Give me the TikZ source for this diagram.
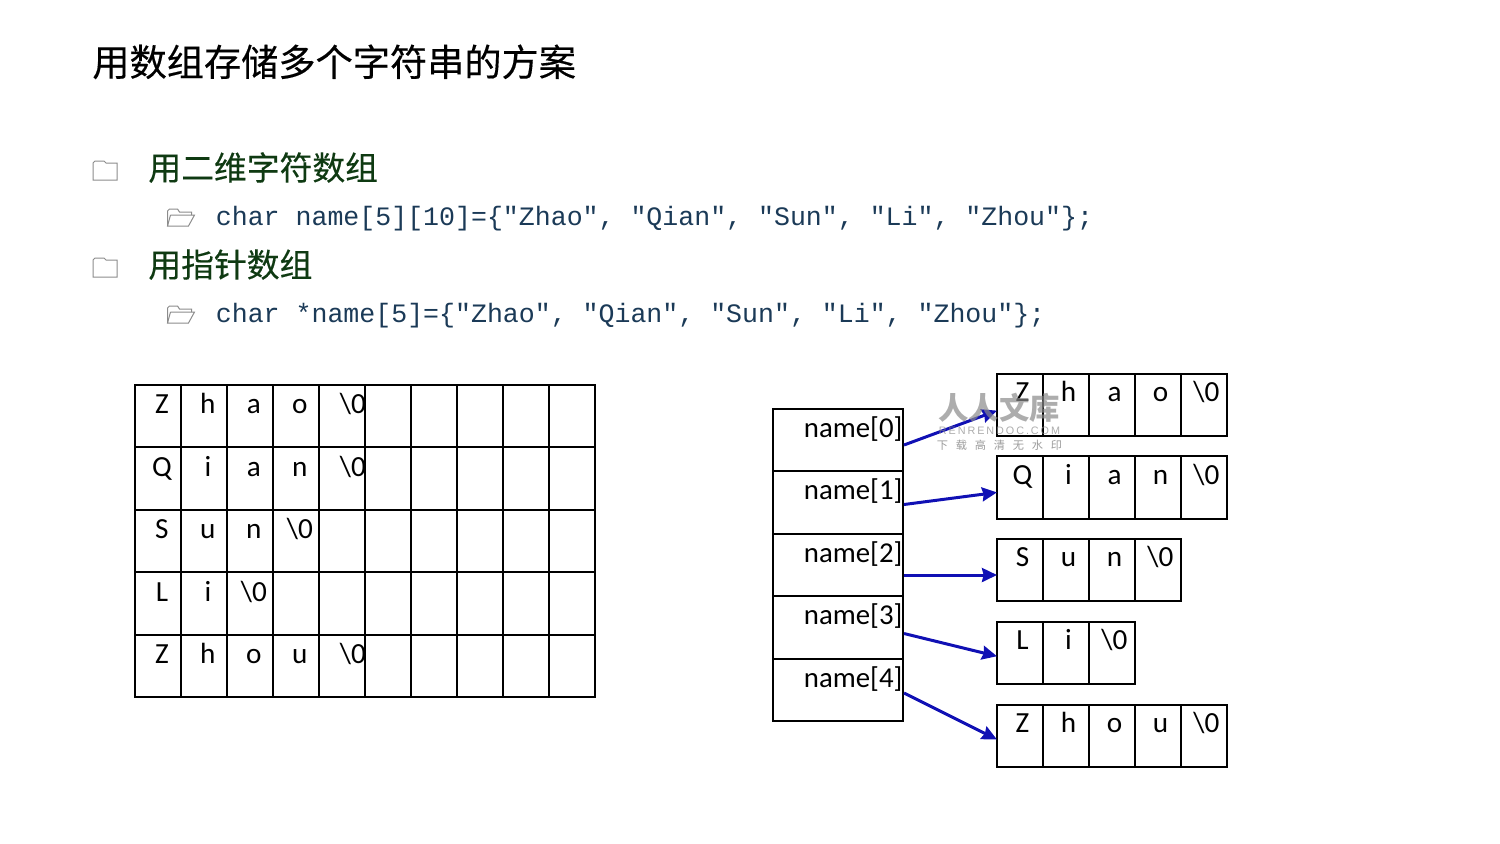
\documentclass[tikz,border=0pt]{standalone}
\usepackage{fontspec}
\setmainfont{Carlito}
\newfontfamily\cjkfont{Noto Sans CJK SC}
\newfontfamily\cjkheavy[FakeBold=0.35]{Noto Sans CJK SC}
\newfontfamily\codefont{Liberation Mono}
\newfontfamily\markfont[LetterSpace=18]{Liberation Sans}
\usetikzlibrary{arrows.meta}
\definecolor{head-green}{HTML}{0F3A12}
\definecolor{code-blue}{HTML}{1B3A57}
\definecolor{arrow-blue}{HTML}{1010B4}
\definecolor{icon-gray}{HTML}{8C8C8C}
\definecolor{mark-gray}{HTML}{8A8A8A}
\tikzset{
  cell/.style={draw=black, line width=1pt, minimum width=23pt, minimum height=31.25pt, inner sep=0pt},
  nameslot/.style={draw=black, line width=1pt, minimum width=65pt, minimum height=31.25pt, inner sep=0pt},
  glyph/.style={anchor=base, inner sep=0pt, font=\fontsize{14.6}{16}\selectfont},
  slotname/.style={anchor=base west, inner sep=0pt, font=\fontsize{14.4}{16}\selectfont},
  titletext/.style={anchor=base west, inner sep=0pt, font=\cjkheavy\fontsize{18.6}{20}\selectfont},
  headtext/.style={anchor=base west, inner sep=0pt, text=head-green, font=\cjkheavy\fontsize{16.4}{18}\selectfont},
  codetext/.style={anchor=base west, inner sep=0pt, text=code-blue, font=\codefont\fontsize{13.29}{15}\selectfont},
  link/.style={draw=arrow-blue, line width=1.5pt, shorten >=-0.5pt, -{Stealth[length=7.5pt, width=7pt, inset=0.8pt]}},
  closedfolder/.pic={
    \draw[icon-gray, line width=0.5pt] (0,3) -- (0,20) -- (24,20) -- (24,3) -- (13,3) -- (11,1) -- (2,1) -- (0,3);
  },
  openfolder/.pic={
    \draw[icon-gray, line width=0.5pt] (0,18) -- (0,3) -- (2,1) -- (10,1) -- (12,4) -- (24,4) -- (24,7);
    \draw[icon-gray, line width=0.5pt] (3,7) -- (27,7) -- (21,18) -- (0,18) -- (3,7);
  }
}

\begin{document}
\begin{tikzpicture}[x=0.5pt, y=-0.5pt]
    \useasboundingbox (0, 0) rectangle (1500, 843);

    \node[titletext] (title) at (92, 76) {用数组存储多个字符串的方案};

    \pic at (93, 160) {closedfolder};
    \node[headtext] (head0) at (148, 180) {用二维字符数组};
    \pic at (167.5, 208) {openfolder};
    \node[codetext] (code0) at (215.5, 225.5) {char name[5][10]=\{"Zhao", "Qian", "Sun", "Li", "Zhou"\};};
    \pic at (93, 257) {closedfolder};
    \node[headtext] (head1) at (148, 277) {用指针数组};
    \pic at (167.5, 305) {openfolder};
    \node[codetext] (code1) at (215.5, 322.5) {char *name[5]=\{"Zhao", "Qian", "Sun", "Li", "Zhou"\};};

    % two-dimensional array
    \foreach \r in {0,...,4} {
      \foreach \c in {0,...,9} {
        \node[cell] (grid-\r-\c) at (158.4 + 46*\c, 416 + 62.5*\r) {};
      }
    }
    \foreach \r/\word in {0/{Z,h,a,o,\textbackslash 0}, 1/{Q,i,a,n,\textbackslash 0}, 2/{S,u,n,\textbackslash 0}, 3/{L,i,\textbackslash 0}, 4/{Z,h,o,u,\textbackslash 0}} {
      \foreach \ch [count=\c from 0] in \word {
        \pgfmathsetmacro{\dx}{\c==4 ? 10.5 : 3.5}
        \node[glyph] (char-\r-\c) at (158.4 + 46*\c + \dx, 413.5 + 62.5*\r) {\ch};
      }
    }

    % pointer array
    \foreach \r in {0,...,4} {
      \node[nameslot] (slot\r) at (838, 440 + 62.5*\r) {};
      \node[slotname] (slotname\r) at (803.5, 437 + 62.5*\r) {name[\r]};
    }

    % strings
    \foreach \r/\top/\word in {0/374/{Z,h,a,o,\textbackslash 0}, 1/456.5/{Q,i,a,n,\textbackslash 0}, 2/539/{S,u,n,\textbackslash 0}, 3/622/{L,i,\textbackslash 0}, 4/705/{Z,h,o,u,\textbackslash 0}} {
      \foreach \ch [count=\c from 0] in \word {
        \node[cell] (str-\r-\c) at (1020 + 46*\c, \top + 31) {};
        \node[glyph] (strchar-\r-\c) at (1022.5 + 46*\c, \top + 27.5) {\ch};
      }
    }

    \draw[link] ([yshift=-2.5pt]slot0.east) -- ([yshift=-3pt]str-0-0.west);
    \draw[link] ([yshift=-1pt]slot1.east) -- ([yshift=-2.5pt]str-1-0.west);
    \draw[link] ([yshift=-5pt]slot2.east) -- ([yshift=-2.5pt]str-2-0.west);
    \draw[link] ([yshift=-3pt]slot3.east) -- ([yshift=-1.5pt]str-3-0.west);
    \draw[link] ([yshift=-1.5pt]slot4.east) -- ([yshift=-1.5pt]str-4-0.west);

    % watermark
    \node[inner sep=0pt, text=mark-gray, opacity=0.7, font=\cjkfont\bfseries\fontsize{15.2}{16}\selectfont] (mark0) at (999, 408) {人人文库};
    \node[inner sep=0pt, text=mark-gray, opacity=0.7, font=\markfont\fontsize{5.4}{6}\selectfont] (mark1) at (999.5, 431) {RENRENDOC.COM};
    \node[inner sep=0pt, text=mark-gray, opacity=0.85, font=\cjkfont\fontsize{5.6}{6}\selectfont] (mark2) at (999.5, 445) {下\hspace{3.9pt}载\hspace{3.9pt}高\hspace{3.9pt}清\hspace{3.9pt}无\hspace{3.9pt}水\hspace{3.9pt}印};
  \end{tikzpicture}
\end{document}
